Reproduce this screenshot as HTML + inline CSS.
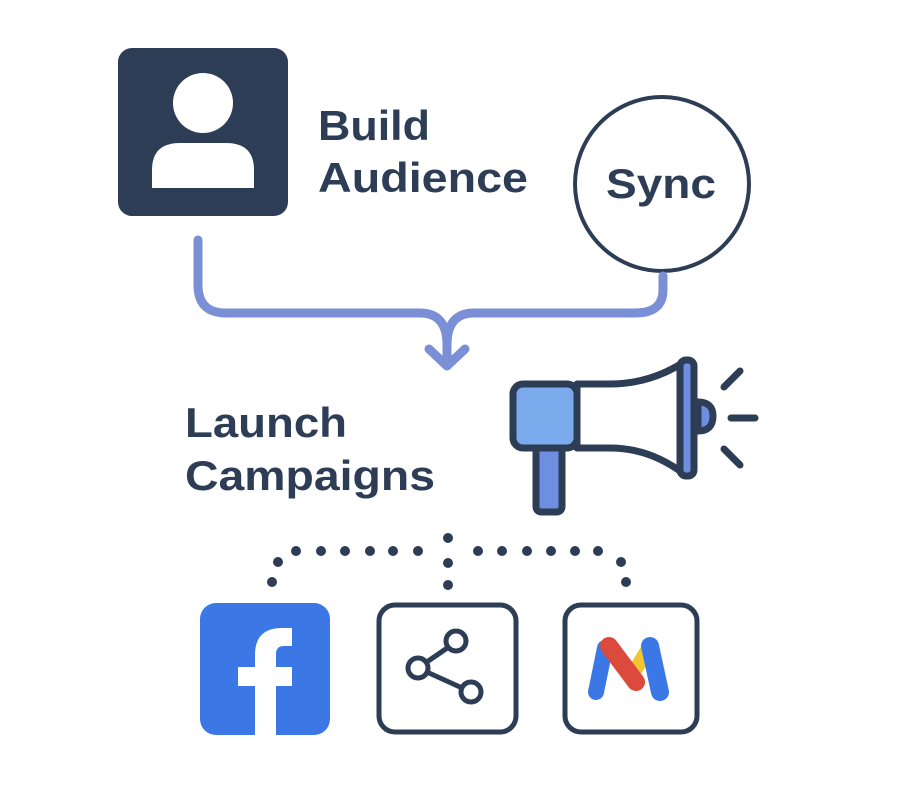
<!DOCTYPE html>
<html><head><style>
html,body{margin:0;padding:0;background:#fff;}
body{width:900px;height:780px;position:relative;overflow:hidden;font-family:"Liberation Sans","DejaVu Sans",sans-serif;}
</style></head><body>
<svg width="900" height="780" viewBox="0 0 900 780" xmlns="http://www.w3.org/2000/svg">
<rect x="118" y="48" width="170" height="168" rx="14" fill="#2d3d56"/>
<circle cx="203" cy="103" r="30" fill="#fff"/>
<path d="M152 188 L152 170 Q152 143 180 143 L226 143 Q254 143 254 170 L254 188 Z" fill="#fff"/>
<text x="318" y="140" font-size="42" font-weight="bold" fill="#2d3d56" textLength="112" lengthAdjust="spacingAndGlyphs">Build</text>
<text x="318" y="192" font-size="42" font-weight="bold" fill="#2d3d56" textLength="210" lengthAdjust="spacingAndGlyphs">Audience</text>
<circle cx="662" cy="184" r="87" fill="#fff" stroke="#2d3d56" stroke-width="4"/>
<text x="661" y="198" font-size="42" font-weight="bold" fill="#2d3d56" text-anchor="middle" textLength="110" lengthAdjust="spacingAndGlyphs">Sync</text>
<g fill="none" stroke="#7b8fd6" stroke-width="9" stroke-linecap="round" stroke-linejoin="round">
<path d="M198 240 L198 285 Q198 313 226 313 L420 313 Q447 313 447 345 L447 358"/>
<path d="M663 276 L663 290 Q663 313 635 313 L474 313 Q447 313 447 345"/>
<path d="M429 349 L447 366 L465 349"/>
</g>
<text x="185" y="437" font-size="42" font-weight="bold" fill="#2d3d56" textLength="162" lengthAdjust="spacingAndGlyphs">Launch</text>
<text x="185" y="490" font-size="42" font-weight="bold" fill="#2d3d56" textLength="250" lengthAdjust="spacingAndGlyphs">Campaigns</text>
<g stroke="#2d3d56" stroke-width="7" stroke-linejoin="round" stroke-linecap="round">
<path d="M536 448 L562 448 L562 506 Q562 512 556 512 L542 512 Q536 512 536 506 Z" fill="#6e8fe0"/>
<path d="M577 384 L610 384 Q650 384 684 362 L684 474 Q650 448 610 448 L577 448 Z" fill="#fff"/>
<path d="M698 402 Q713 402 713 416 Q713 431 698 431 Z" fill="#6e8fe0"/>
<rect x="680" y="360" width="14" height="116" rx="6" fill="#6e8fe0"/>
<rect x="513" y="384" width="64" height="64" rx="10" fill="#7aaaec"/>
<line x1="724" y1="387" x2="740" y2="371" fill="none"/>
<line x1="731" y1="418" x2="755" y2="418" fill="none"/>
<line x1="724" y1="449" x2="740" y2="465" fill="none"/>
</g>
<g fill="#2d3d56">
<circle cx="272" cy="582" r="5"/><circle cx="278" cy="562" r="5"/>
<circle cx="296" cy="551" r="5"/><circle cx="321" cy="551" r="5"/><circle cx="345" cy="551" r="5"/><circle cx="370" cy="551" r="5"/><circle cx="393" cy="551" r="5"/><circle cx="418" cy="551" r="5"/>
<circle cx="448" cy="538" r="5"/><circle cx="448" cy="563" r="5"/><circle cx="448" cy="585" r="5"/>
<circle cx="478" cy="551" r="5"/><circle cx="502" cy="551" r="5"/><circle cx="527" cy="551" r="5"/><circle cx="551" cy="551" r="5"/><circle cx="575" cy="551" r="5"/><circle cx="598" cy="551" r="5"/>
<circle cx="621" cy="562" r="5"/><circle cx="626" cy="582" r="5"/>
</g>
<rect x="200" y="603" width="130" height="132" rx="16" fill="#3b78e6"/>
<path d="M255 735 L255 686 L238 686 L238 667 L255 667 L255 655 Q255 628 282 628 L292 628 L292 646 L284 646 Q276 646 276 654 L276 667 L292 667 L292 686 L276 686 L276 735 Z" fill="#fff"/>
<rect x="379" y="605" width="137" height="127" rx="16" fill="#fff" stroke="#2d3d56" stroke-width="5"/>
<g stroke="#2d3d56" stroke-width="5" fill="#fff">
<line x1="418" y1="668" x2="456" y2="642"/><line x1="418" y1="668" x2="471" y2="692"/>
<circle cx="456" cy="641" r="10"/><circle cx="418" cy="668" r="10"/><circle cx="471" cy="692" r="10"/>
</g>
<rect x="565" y="605" width="132" height="127" rx="16" fill="#fff" stroke="#2d3d56" stroke-width="5"/>
<g stroke-linecap="round">
<line x1="605" y1="648" x2="596" y2="692" stroke="#3b78e6" stroke-width="16"/>
<line x1="646" y1="652" x2="634" y2="672" stroke="#f4c430" stroke-width="14"/>
<line x1="650" y1="646" x2="660" y2="692" stroke="#3b78e6" stroke-width="18"/>
<line x1="609" y1="646" x2="636" y2="682" stroke="#dc4a3d" stroke-width="18"/>
</g>
</svg>
</body></html>
